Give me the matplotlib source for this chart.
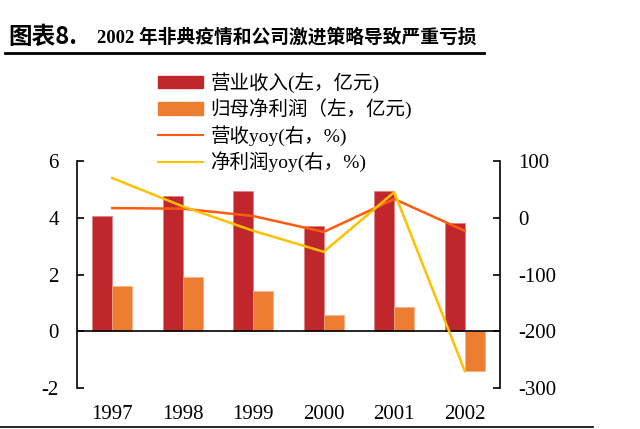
import matplotlib.pyplot as plt
from matplotlib.patches import Patch
from matplotlib.lines import Line2D
import numpy as np

plt.rcParams['font.family'] = ['Liberation Serif', 'Noto Sans CJK SC']
plt.rcParams['axes.unicode_minus'] = False

years = ['1997', '1998', '1999', '2000', '2001', '2002']
revenue = [4.07, 4.76, 4.96, 3.71, 4.93, 3.80]      # 营业收入, 亿元
net_profit = [1.60, 1.92, 1.43, 0.56, 0.85, -1.40]  # 归母净利润, 亿元
rev_yoy = [17, 16, 3, -25, 33, -23]                 # %
np_yoy = [70, 20, -23, -60, 45, -270]               # %

c_rev = '#C0272D'
c_np = '#ED7D31'
c_rev_yoy = '#FF5B0F'
c_np_yoy = '#FFC000'

fig = plt.figure(figsize=(6.4, 4.29), dpi=100)
ax = fig.add_axes([77 / 640, 1 - 388 / 429, 423 / 640, 227 / 429])
ax2 = ax.twinx()

x = np.arange(len(years))
w = 0.284
ax.bar(x - w / 2, revenue, w, color=c_rev, edgecolor='#E08080', linewidth=0.5)
ax.bar(x + w / 2, net_profit, w, color=c_np, edgecolor='#F5B080', linewidth=0.5)
ax.axhline(0, color='black', lw=1.2)

ax2.plot(x, rev_yoy, color=c_rev_yoy, lw=1.8)
ax2.plot(x, np_yoy, color=c_np_yoy, lw=1.8)

ax.set_xlim(-0.5, 5.5)
ax.set_ylim(-2, 6)
ax2.set_ylim(-300, 100)
ax.set_yticks([-2, 0, 2, 4, 6])
ax2.set_yticks([-300, -200, -100, 0, 100])
ax.set_xticks(x)
ax.set_xticklabels(years)

for a in (ax, ax2):
    a.spines['top'].set_visible(False)
    a.spines['bottom'].set_visible(False)
    a.tick_params(labelsize=15, width=1.2, length=5, direction='in', pad=13)
ax.spines['right'].set_visible(False)
ax2.spines['left'].set_visible(False)
ax.spines['left'].set_linewidth(1.2)
ax2.spines['right'].set_linewidth(1.2)
ax.tick_params(axis='x', length=0, pad=12)

handles = [Patch(color=c_rev), Patch(color=c_np),
           Line2D([], [], color=c_rev_yoy, lw=1.5),
           Line2D([], [], color=c_np_yoy, lw=1.5)]
labels = ['营业收入(左，亿元)', '归母净利润（左，亿元)', '营收yoy(右，%)', '净利润yoy(右，%)']
fig.legend(handles, labels, loc='upper left', bbox_to_anchor=(158 / 640, 1 - 72 / 429),
           frameon=False, fontsize=14, handlelength=2.3, handleheight=0.6,
           handletextpad=0.4, labelspacing=0.3, borderpad=0, borderaxespad=0)

fig.text(8 / 640, 1 - 37 / 429, '图表8.', fontsize=17, fontweight='bold',
         family=['Noto Sans CJK SC'], va='center')
fig.text(97 / 640, 1 - 37 / 429, '2002 年非典疫情和公司激进策略导致严重亏损', fontsize=13.5,
         fontweight='bold', family=['Liberation Serif', 'Noto Sans CJK SC'], va='center')
fig.add_artist(Line2D([5 / 640, 484 / 640], [1 - 53 / 429] * 2, color='black', lw=2))
fig.add_artist(Line2D([0, 593 / 640], [1 - 427 / 429] * 2, color='black', lw=1.2))

fig.savefig('out.png', dpi=100)
